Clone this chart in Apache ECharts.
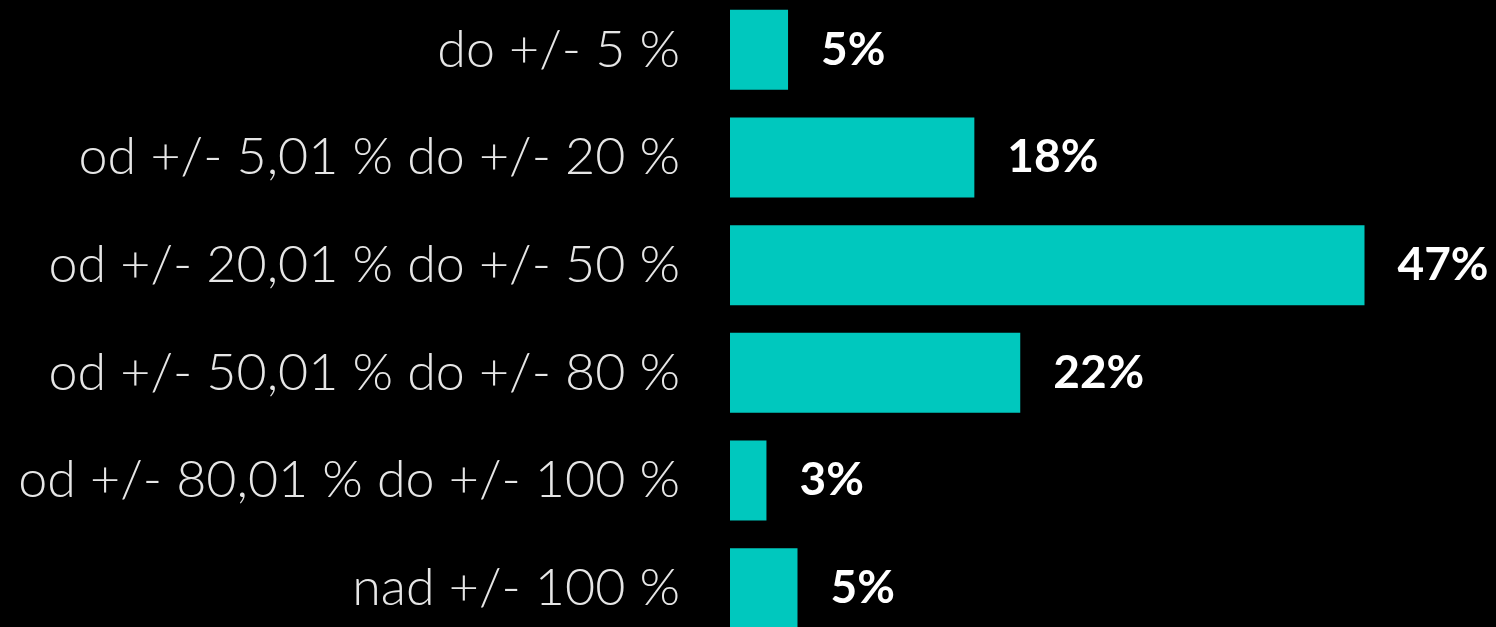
<!DOCTYPE html>
<html>
<head>
<meta charset="utf-8">
<script src="https://cdn.jsdelivr.net/npm/echarts@6/dist/echarts.min.js"></script>
<style>
  html, body { margin: 0; padding: 0; background: #000; overflow: hidden; }
  body { width: 1496px; height: 627px; position: relative; }
  /* wykres jest wyższy od okna, ostatni słupek ucięty u dołu jak w oryginale */
  #chart { position: absolute; left: 0; top: -4px; width: 1496px; height: 646px; }
</style>
</head>
<body>
<div id="chart"></div>
<script>
// przedziały odchylenia
const categories = [
  'do +/- 5 %',
  'od +/- 5,01 % do +/- 20 %',
  'od +/- 20,01 % do +/- 50 %',
  'od +/- 50,01 % do +/- 80 %',
  'od +/- 80,01 % do +/- 100 %',
  'nad +/- 100 %'
]
const values = [4.3, 18.1, 47.0, 21.5, 2.7, 5.0]
const valueLabels = ['5%', '18%', '47%', '22%', '3%', '5%']

const chart = echarts.init(document.getElementById('chart'))
const option = {
  backgroundColor: '#000',
  animation: false,
  grid: {
    left: 730,
    right: 91,
    top: 0,
    bottom: 0
  },
  xAxis: {
    type: 'value',
    min: 0,
    max: 50,
    show: false
  },
  yAxis: {
    type: 'category',
    data: categories,
    inverse: true,
    axisLine: { show: false },
    axisTick: { show: false },
    axisLabel: {
      margin: 50,
      color: '#e6e6e6',
      fontFamily: 'Lato',
      fontWeight: 300,
      fontSize: 52
    }
  },
  series: [{
    type: 'bar',
    data: values,
    barWidth: 80,
    itemStyle: { color: '#00c8be' },
    label: {
      show: true,
      position: 'right',
      distance: 33,
      color: '#fff',
      fontFamily: 'Lato',
      fontWeight: 'bold',
      fontSize: 46,
      formatter: p => valueLabels[p.dataIndex]
    }
  }]
}
chart.setOption(option)
</script>
</body>
</html>
